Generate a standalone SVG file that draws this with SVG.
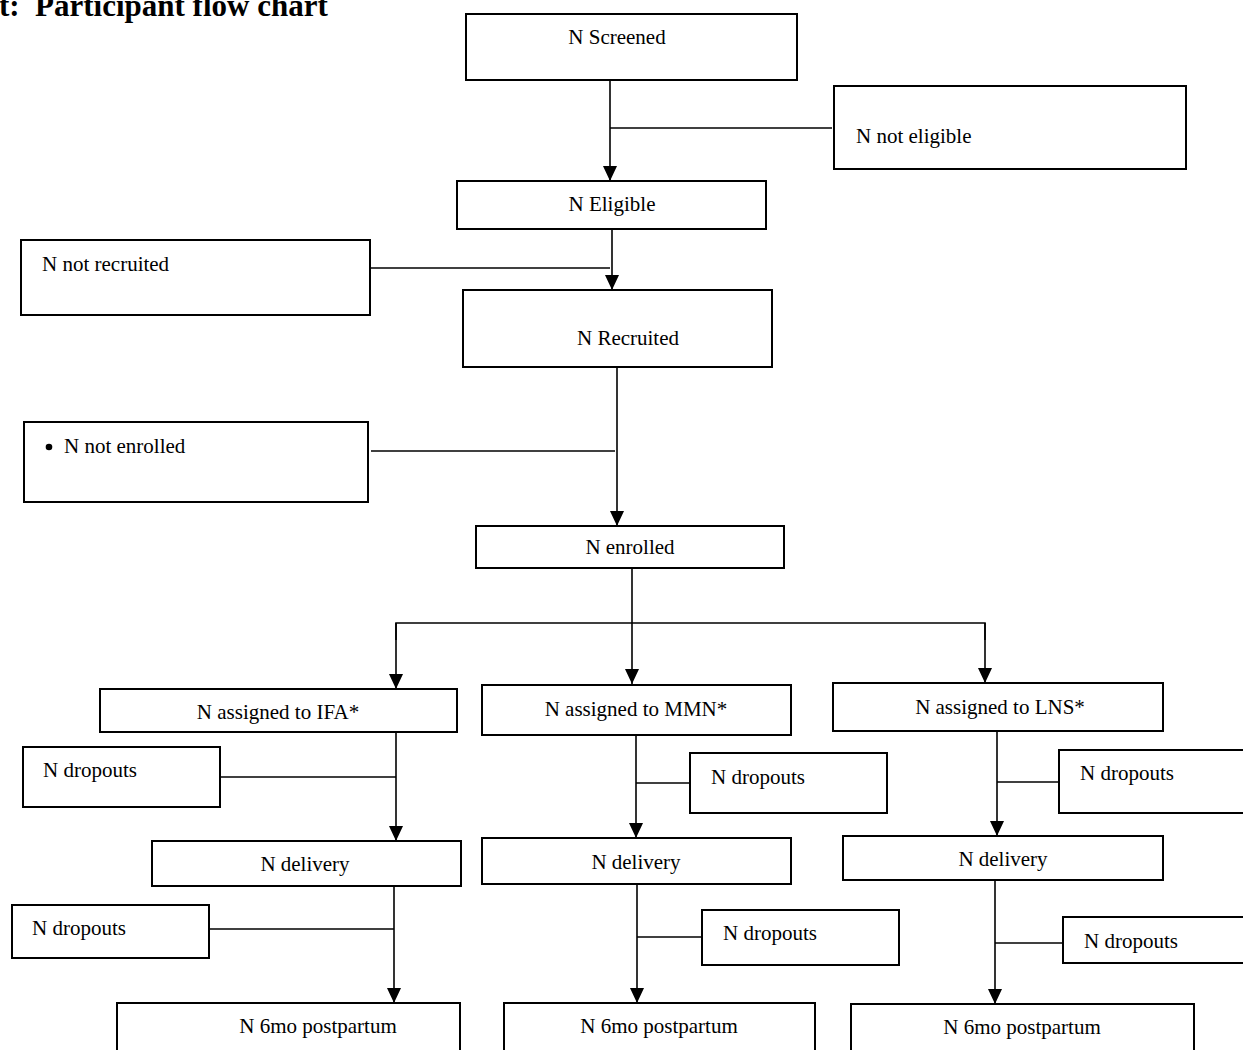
<svg xmlns="http://www.w3.org/2000/svg" width="1243" height="1050" viewBox="0 0 1243 1050">
<style>
  .box { fill: #fff; stroke: #000; stroke-width: 2; }
  .lbl { font-family: "Liberation Serif", "Times New Roman", serif; font-size: 21px; fill: #000; }
  .c { text-anchor: middle; }
  .ln { fill: none; stroke: #000; stroke-width: 1.6; }
  .title { font-family: "Liberation Serif", "Times New Roman", serif; font-size: 31px; font-weight: bold; fill: #000; }
</style>
<defs>
  <marker id="arr" markerUnits="userSpaceOnUse" markerWidth="15" markerHeight="14" refX="15" refY="7" orient="auto">
    <path d="M0,0 L15,7 L0,14 z" fill="#000"/>
  </marker>
</defs>
<rect width="1243" height="1050" fill="#fff"/>
<text class="title" x="-1" y="16"><tspan>t:</tspan><tspan x="35">Participant flow chart</tspan></text>

<g id="connectors">
  <line class="ln" x1="610" y1="80" x2="610" y2="181" marker-end="url(#arr)"/>
  <line class="ln" x1="610" y1="128" x2="832" y2="128"/>
  <line class="ln" x1="612" y1="229" x2="612" y2="290" marker-end="url(#arr)"/>
  <line class="ln" x1="370" y1="268" x2="610" y2="268"/>
  <line class="ln" x1="617" y1="367" x2="617" y2="526" marker-end="url(#arr)"/>
  <line class="ln" x1="371" y1="451" x2="615" y2="451"/>
  <line class="ln" x1="632" y1="568" x2="632" y2="684" marker-end="url(#arr)"/>
  <polyline class="ln" points="396,640 396,623 985,623 985,640"/>
  <line class="ln" x1="396" y1="623" x2="396" y2="689" marker-end="url(#arr)"/>
  <line class="ln" x1="985" y1="623" x2="985" y2="683" marker-end="url(#arr)"/>
  <!-- IFA column -->
  <line class="ln" x1="396" y1="732" x2="396" y2="841" marker-end="url(#arr)"/>
  <line class="ln" x1="220" y1="777" x2="396" y2="777"/>
  <line class="ln" x1="394" y1="886" x2="394" y2="1003" marker-end="url(#arr)"/>
  <line class="ln" x1="209" y1="929" x2="394" y2="929"/>
  <!-- MMN column -->
  <line class="ln" x1="636" y1="735" x2="636" y2="838" marker-end="url(#arr)"/>
  <line class="ln" x1="636" y1="783" x2="690" y2="783"/>
  <line class="ln" x1="637" y1="884" x2="637" y2="1003" marker-end="url(#arr)"/>
  <line class="ln" x1="637" y1="937" x2="702" y2="937"/>
  <!-- LNS column -->
  <line class="ln" x1="997" y1="731" x2="997" y2="836" marker-end="url(#arr)"/>
  <line class="ln" x1="997" y1="782" x2="1059" y2="782"/>
  <line class="ln" x1="995" y1="880" x2="995" y2="1004" marker-end="url(#arr)"/>
  <line class="ln" x1="995" y1="943" x2="1063" y2="943"/>
</g>

<g id="screened"><rect class="box" x="466" y="14" width="331" height="66"/><text class="lbl c" x="617" y="44">N Screened</text></g>
<g id="not-eligible"><rect class="box" x="834" y="86" width="352" height="83"/><text class="lbl" x="856" y="143">N not eligible</text></g>
<g id="eligible"><rect class="box" x="457" y="181" width="309" height="48"/><text class="lbl c" x="612" y="211">N Eligible</text></g>
<g id="not-recruited"><rect class="box" x="21" y="240" width="349" height="75"/><text class="lbl" x="42" y="271">N not recruited</text></g>
<g id="recruited"><rect class="box" x="463" y="290" width="309" height="77"/><text class="lbl c" x="628" y="345">N Recruited</text></g>
<g id="not-enrolled"><rect class="box" x="24" y="422" width="344" height="80"/><circle cx="49" cy="447" r="3.3" fill="#000"/><text class="lbl" x="64" y="453">N not enrolled</text></g>
<g id="enrolled"><rect class="box" x="476" y="526" width="308" height="42"/><text class="lbl c" x="630" y="554">N enrolled</text></g>

<g id="ifa"><rect class="box" x="100" y="689" width="357" height="43"/><text class="lbl c" x="278" y="719">N assigned to IFA*</text></g>
<g id="mmn"><rect class="box" x="482" y="685" width="309" height="50"/><text class="lbl c" x="636" y="716">N assigned to MMN*</text></g>
<g id="lns"><rect class="box" x="833" y="683" width="330" height="48"/><text class="lbl c" x="1000" y="714">N assigned to LNS*</text></g>

<g id="ifa-drop1"><rect class="box" x="23" y="747" width="197" height="60"/><text class="lbl" x="43" y="777">N dropouts</text></g>
<g id="mmn-drop1"><rect class="box" x="690" y="753" width="197" height="60"/><text class="lbl" x="711" y="784">N dropouts</text></g>
<g id="lns-drop1"><rect class="box" x="1059" y="750" width="200" height="63"/><text class="lbl" x="1080" y="780">N dropouts</text></g>

<g id="ifa-delivery"><rect class="box" x="152" y="841" width="309" height="45"/><text class="lbl c" x="305" y="871">N delivery</text></g>
<g id="mmn-delivery"><rect class="box" x="482" y="838" width="309" height="46"/><text class="lbl c" x="636" y="869">N delivery</text></g>
<g id="lns-delivery"><rect class="box" x="843" y="836" width="320" height="44"/><text class="lbl c" x="1003" y="866">N delivery</text></g>

<g id="ifa-drop2"><rect class="box" x="12" y="905" width="197" height="53"/><text class="lbl" x="32" y="935">N dropouts</text></g>
<g id="mmn-drop2"><rect class="box" x="702" y="910" width="197" height="55"/><text class="lbl" x="723" y="940">N dropouts</text></g>
<g id="lns-drop2"><rect class="box" x="1063" y="917" width="200" height="46"/><text class="lbl" x="1084" y="948">N dropouts</text></g>

<g id="ifa-6mo"><rect class="box" x="117" y="1003" width="343" height="70"/><text class="lbl c" x="318" y="1033">N 6mo postpartum</text></g>
<g id="mmn-6mo"><rect class="box" x="504" y="1003" width="311" height="70"/><text class="lbl c" x="659" y="1033">N 6mo postpartum</text></g>
<g id="lns-6mo"><rect class="box" x="851" y="1004" width="343" height="70"/><text class="lbl c" x="1022" y="1034">N 6mo postpartum</text></g>
</svg>
